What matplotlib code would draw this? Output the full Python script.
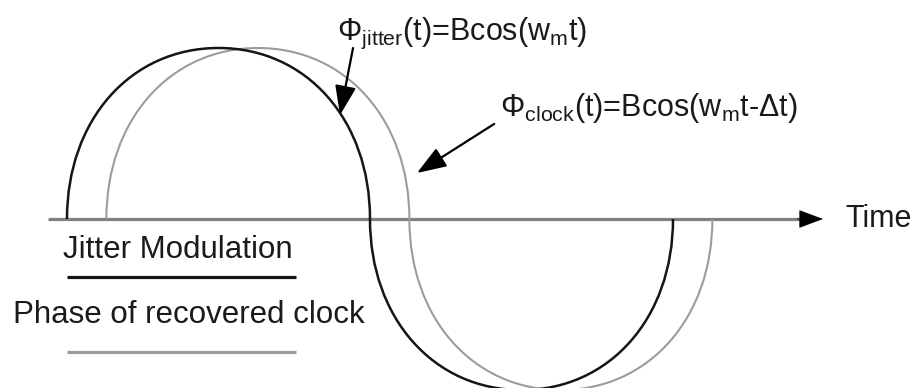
import matplotlib
matplotlib.use('Agg')
import matplotlib.pyplot as plt
from matplotlib.path import Path
from matplotlib.patches import PathPatch

# time in units of half a modulation period, phase in units of B
jitter_zeros = [0.0, 1.0, 2.0]      # zero crossings of phi_jitter
clock_delay = 0.13                  # delta t of the recovered clock
B = 1.0
time_axis = [-0.063, 2.42]          # start of time axis, base of arrow head
time_tip = 2.495

jitter_label = r'Φ$_{\mathrm{jitter}}$(t)=Bcos(w$_{\mathrm{m}}$t)'
clock_label = r'Φ$_{\mathrm{clock}}$(t)=Bcos(w$_{\mathrm{m}}$t-Δt)'
jitter_text_at = (0.89, 1.05)
jitter_arrow = [(0.944, 1.0), (0.901, 0.608)]     # tail, tip
clock_text_at = (1.43, 0.60)
clock_arrow = [(1.41, 0.556), (1.155, 0.269)]

legend_names = ['Jitter Modulation', 'Phase of recovered clock']
legend_text_at = [(-0.013, -0.228), (-0.178, -0.608)]
legend_line_v = [-0.339, -0.778]
legend_line_t = [0.0, 0.756]

BLACK = '#151515'
GREY = '#9c9c9c'
AXIS_GREY = '#808080'

plt.rcParams['font.family'] = ['Liberation Sans', 'DejaVu Sans']
plt.rcParams['mathtext.fontset'] = 'custom'
plt.rcParams['mathtext.rm'] = 'Liberation Sans'
plt.rcParams['mathtext.it'] = 'Liberation Sans:italic'


def lobe_path(zeros, amp, k=0.58):
    # each half period drawn as a rounded lobe made of two cubic beziers
    verts = [(zeros[0], 0.0)]
    codes = [Path.MOVETO]
    sign = 1
    for x0, x1 in zip(zeros[:-1], zeros[1:]):
        h = (x1 - x0) / 2
        c = x0 + h
        a = sign * amp
        verts += [(x0, k * a), (c - k * h, a), (c, a),
                  (c + k * h, a), (x1, k * a), (x1, 0.0)]
        codes += [Path.CURVE4] * 6
        sign = -sign
    return Path(verts, codes)


fig = plt.figure(figsize=(9.16, 3.88), dpi=100)
ax = fig.add_axes([0, 0, 1, 1])
ax.set_xlim(-0.2211, 2.802)
ax.set_ylim(-0.9883, 1.2807)
ax.axis('off')

# time axis
ax.plot(time_axis, [0, 0], color=AXIS_GREY, lw=2.3, solid_capstyle='butt', zorder=1)
ax.annotate('', xy=(time_tip, 0), xytext=(time_axis[1] - 0.01, 0),
            arrowprops=dict(arrowstyle='-|>,head_length=16,head_width=6',
                            mutation_scale=1, color='black', lw=0.5,
                            shrinkA=0, shrinkB=0))
ax.text(time_tip + 0.075, 0, 'Time', fontsize=22, va='center', ha='left',
        color='#1a1a1a')

# the two phase curves
clock_zeros = [z + clock_delay for z in jitter_zeros]
ax.add_patch(PathPatch(lobe_path(clock_zeros, B), fill=False,
                       edgecolor=GREY, lw=1.5, zorder=2))
ax.add_patch(PathPatch(lobe_path(jitter_zeros, B), fill=False,
                       edgecolor=BLACK, lw=1.8, zorder=3))

# formula labels with pointers
ax.text(*jitter_text_at, jitter_label, fontsize=22, ha='left', va='baseline',
        color='#1a1a1a')
ax.text(*clock_text_at, clock_label, fontsize=22, ha='left', va='baseline',
        color='#1a1a1a')
for tail, tip in [jitter_arrow, clock_arrow]:
    ax.annotate('', xy=tip, xytext=tail,
                arrowprops=dict(arrowstyle='-|>,head_length=18,head_width=6.5',
                                mutation_scale=1, color='black', lw=1.6,
                                shrinkA=0, shrinkB=0))

# legend
for name, pos, v, col in zip(legend_names, legend_text_at, legend_line_v,
                             [BLACK, GREY]):
    ax.text(*pos, name, fontsize=22.5, ha='left', va='baseline', color='#1a1a1a')
    ax.plot(legend_line_t, [v, v], color=col, lw=2.3, solid_capstyle='butt')

fig.savefig('out.png', dpi=100)
